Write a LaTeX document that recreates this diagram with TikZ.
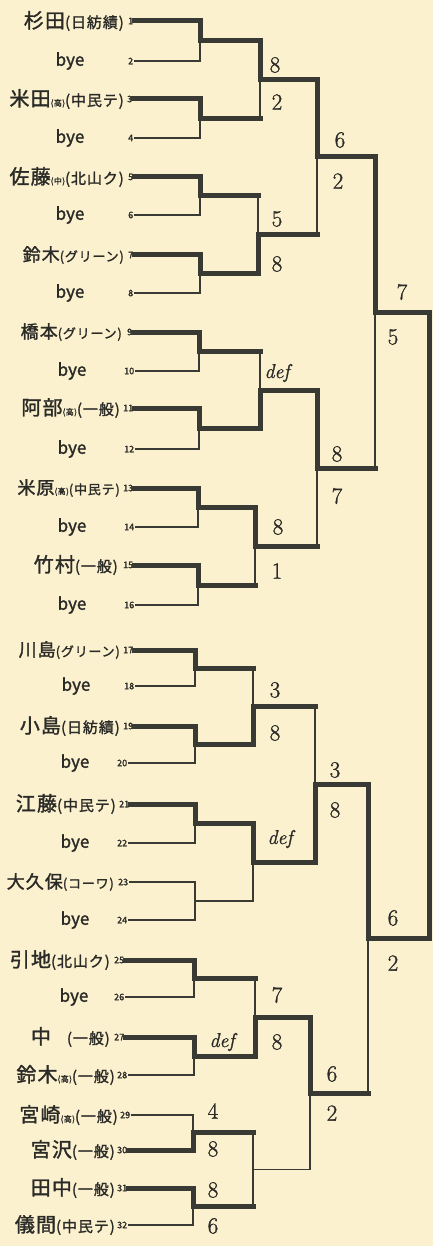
\documentclass[tikz,border=0pt]{standalone}
\usepackage{fontspec}
\newfontfamily\jpfont[LetterSpace=6,FakeBold=1.5]{Noto Sans CJK JP}
\newfontfamily\byefont[FakeBold=1.5]{Noto Sans CJK JP}
\newfontfamily\digfont[FakeBold=1.2]{Latin Modern Roman}
\definecolor{paper}{HTML}{FBF1CF}
\definecolor{ink}{HTML}{3A3A35}
\definecolor{txt}{HTML}{2A2A27}
\newcommand\pnm[3]{{\fontsize{20}{20}\selectfont #1}{\fontsize{8}{8}\selectfont #2}{\fontsize{15}{15}\selectfont (#3)}}
\newcommand\pnms[3]{{\fontsize{18}{18}\selectfont #1}{\fontsize{8}{8}\selectfont #2}{\fontsize{13}{13}\selectfont (#3)}}
\newcommand\brk[4]{\draw[#3] (#1) -- (#1 -| #2); \draw[#4] (#1 -| #2) -- (#2);}
\tikzset{
  W/.style={draw=ink, line width=5pt, line cap=rect},
  L/.style={draw=ink, line width=1.5pt, line cap=rect},
  pname/.style={anchor=east, inner sep=0pt, text=txt, font=\jpfont},
  pnum/.style={anchor=west, inner sep=1pt, text=txt, font=\byefont\fontsize{9}{9}\selectfont},
  byelab/.style={inner sep=0pt, text=txt, font=\byefont\fontsize{17}{17}\selectfont},
  scorelab/.style={inner sep=0pt, text=txt, font=\digfont\fontsize{23}{23}\selectfont},
  deflab/.style={inner sep=0pt, text=txt, font=\digfont\itshape\fontsize{20}{20}\selectfont}
}
\begin{document}
\begin{tikzpicture}[x=1pt,y=-1pt]
\useasboundingbox (0,0) rectangle (433,1246);
\fill[paper] (0,0) rectangle (433,1246);

% entries
\node[pname] (a1) at (124,21) {\pnm{杉田}{}{日紡績}};
\node[pnum] (n1) at (127,21) {1};
\node[byelab] (b2) at (70,61) {bye};
\node[pnum] (n2) at (127,61) {2};
\node[pname] (a3) at (124,99) {\pnm{米田}{(高)}{中民テ}};
\node[pnum] (n3) at (126,99) {3};
\node[byelab] (b4) at (70,138) {bye};
\node[pnum] (n4) at (127,138) {4};
\node[pname] (a5) at (124,177) {\pnm{佐藤}{(中)}{北山ク}};
\node[pnum] (n5) at (127,177) {5};
\node[byelab] (b6) at (70,215) {bye};
\node[pnum] (n6) at (127,215) {6};
\node[pname] (a7) at (124,255) {\pnms{鈴木}{}{グリーン}};
\node[pnum] (n7) at (127,255) {7};
\node[byelab] (b8) at (70,293) {bye};
\node[pnum] (n8) at (127,293) {8};
\node[pname] (a9) at (122,332) {\pnms{橋本}{}{グリーン}};
\node[pnum] (n9) at (126,332) {9};
\node[byelab] (b10) at (72,371) {bye};
\node[pnum] (n10) at (123,371) {10};
\node[pname] (a11) at (120,408) {\pnm{阿部}{(高)}{一般}};
\node[pnum] (n11) at (122,408) {11};
\node[byelab] (b12) at (72,449) {bye};
\node[pnum] (n12) at (123,449) {12};
\node[pname] (a13) at (120,488) {\pnms{米原}{(高)}{中民テ}};
\node[pnum] (n13) at (122,488) {13};
\node[byelab] (b14) at (72,527) {bye};
\node[pnum] (n14) at (123,527) {14};
\node[pname] (a15) at (118,565) {\pnm{竹村}{}{一般}};
\node[pnum] (n15) at (122,565) {15};
\node[byelab] (b16) at (72,605) {bye};
\node[pnum] (n16) at (123,605) {16};
\node[pname] (a17) at (120,650) {\pnms{川島}{}{グリーン}};
\node[pnum] (n17) at (122,650) {17};
\node[byelab] (b18) at (76,686) {bye};
\node[pnum] (n18) at (123,686) {18};
\node[pname] (a19) at (120,726) {\pnm{小島}{}{日紡績}};
\node[pnum] (n19) at (122,726) {19};
\node[byelab] (b20) at (75,763) {bye};
\node[pnum] (n20) at (116,763) {20};
\node[pname] (a21) at (116,804) {\pnm{江藤}{}{中民テ}};
\node[pnum] (n21) at (118,804) {21};
\node[byelab] (b22) at (75,843) {bye};
\node[pnum] (n22) at (116,843) {22};
\node[pname] (a23) at (114,882) {\pnms{大久保}{}{コーワ}};
\node[pnum] (n23) at (117,882) {23};
\node[byelab] (b24) at (75,920) {bye};
\node[pnum] (n24) at (116,920) {24};
\node[pname] (a25) at (110,960) {\pnm{引地}{}{北山ク}};
\node[pnum] (n25) at (113,960) {25};
\node[byelab] (b26) at (74,997) {bye};
\node[pnum] (n26) at (113,997) {26};
\node[pname] (a27) at (110,1037) {\pnm{中\hspace{16pt}}{}{一般}};
\node[pnum] (n27) at (113,1037) {27};
\node[pname] (a28) at (115,1075) {\pnm{鈴木}{(高)}{一般}};
\node[pnum] (n28) at (116,1075) {28};
\node[pname] (a29) at (118,1115) {\pnm{宮崎}{(高)}{一般}};
\node[pnum] (n29) at (119,1115) {29};
\node[pname] (a30) at (115,1150) {\pnm{宮沢}{}{一般}};
\node[pnum] (n30) at (116,1150) {30};
\node[pname] (a31) at (115,1188) {\pnm{田中}{}{一般}};
\node[pnum] (n31) at (116,1188) {31};
\node[pname] (a32) at (115,1225) {\pnm{儀間}{}{中民テ}};
\node[pnum] (n32) at (116,1225) {32};

% match junctions
\coordinate (m1) at (200,41);   \coordinate (m2) at (200,118.5);
\coordinate (m3) at (200,196);  \coordinate (m4) at (200,274);
\coordinate (m5) at (199,351.5);\coordinate (m6) at (199,428.5);
\coordinate (m7) at (198,507.5);\coordinate (m8) at (198,585);
\coordinate (m9) at (195,668);  \coordinate (m10) at (195,744.5);
\coordinate (m11) at (195,823.5);\coordinate (m12) at (195,901);
\coordinate (m13) at (194,978.5);\coordinate (m14) at (194,1056);
\coordinate (m15) at (193,1132.5);\coordinate (m16) at (193,1206.5);
\coordinate (q1) at (260,80);   \coordinate (q2) at (258,235);
\coordinate (q3) at (260,390);  \coordinate (q4) at (255,546);
\coordinate (q5) at (253,706);  \coordinate (q6) at (253,862);
\coordinate (q7) at (255,1017); \coordinate (q8) at (253,1169.5);
\coordinate (s1) at (317,157);  \coordinate (s2) at (317,468);
\coordinate (s3) at (315,784);  \coordinate (s4) at (310,1093);
\coordinate (t1) at (375,312);  \coordinate (t2) at (368,938.5);
\coordinate (f) at (429,625);

% round 1
\brk{n1.east}{m1}{W}{W} \brk{n2.east}{m1}{L}{L}
\brk{n3.east}{m2}{W}{W} \brk{n4.east}{m2}{L}{L}
\brk{n5.east}{m3}{W}{W} \brk{n6.east}{m3}{L}{L}
\brk{n7.east}{m4}{W}{W} \brk{n8.east}{m4}{L}{L}
\brk{n9.east}{m5}{W}{W} \brk{n10.east}{m5}{L}{L}
\brk{n11.east}{m6}{W}{W} \brk{n12.east}{m6}{L}{L}
\brk{n13.east}{m7}{W}{W} \brk{n14.east}{m7}{L}{L}
\brk{n15.east}{m8}{W}{W} \brk{n16.east}{m8}{L}{L}
\brk{n17.east}{m9}{W}{W} \brk{n18.east}{m9}{L}{L}
\brk{n19.east}{m10}{W}{W} \brk{n20.east}{m10}{L}{L}
\brk{n21.east}{m11}{W}{W} \brk{n22.east}{m11}{L}{L}
\brk{n23.east}{m12}{L}{L} \brk{n24.east}{m12}{L}{L}
\brk{n25.east}{m13}{W}{W} \brk{n26.east}{m13}{L}{L}
\brk{n27.east}{m14}{W}{W} \brk{n28.east}{m14}{L}{L}
\brk{n29.east}{m15}{L}{L} \brk{n30.east}{m15}{W}{W}
\brk{n31.east}{m16}{W}{W} \brk{n32.east}{m16}{L}{L}
% round 2
\brk{m1}{q1}{W}{W} \brk{m2}{q1}{W}{L}
\brk{m3}{q2}{W}{L} \brk{m4}{q2}{W}{W}
\brk{m5}{q3}{W}{L} \brk{m6}{q3}{W}{W}
\brk{m7}{q4}{W}{W} \brk{m8}{q4}{W}{L}
\brk{m9}{q5}{W}{L} \brk{m10}{q5}{W}{W}
\brk{m11}{q6}{W}{W} \brk{m12}{q6}{L}{L}
\brk{m13}{q7}{W}{L} \brk{m14}{q7}{W}{W}
\brk{m15}{q8}{W}{L} \brk{m16}{q8}{W}{L}
% round 3
\brk{q1}{s1}{W}{W} \brk{q2}{s1}{W}{L}
\brk{q3}{s2}{W}{W} \brk{q4}{s2}{W}{L}
\brk{q5}{s3}{W}{L} \brk{q6}{s3}{W}{W}
\brk{q7}{s4}{W}{W} \brk{q8}{s4}{L}{L}
% round 4
\brk{s1}{t1}{W}{W} \brk{s2}{t1}{W}{L}
\brk{s3}{t2}{W}{W} \brk{s4}{t2}{W}{L}
% final
\brk{t1}{f}{W}{W} \brk{t2}{f}{W}{W}

% scores
\node[scorelab] (c1) at (275,65) {8};
\node[scorelab] (c2) at (277,102) {2};
\node[scorelab] (c3) at (277,219) {5};
\node[scorelab] (c4) at (277,264) {8};
\node[deflab] (c5) at (277,373) {def};
\node[scorelab] (c6) at (278,527) {8};
\node[scorelab] (c7) at (277,571) {1};
\node[scorelab] (c8) at (275,690) {3};
\node[scorelab] (c9) at (275,733) {8};
\node[deflab] (c10) at (280,839) {def};
\node[scorelab] (c11) at (277,995) {7};
\node[scorelab] (c12) at (277,1042) {8};
\node[deflab] (c13) at (222,1042) {def};
\node[scorelab] (c14) at (213,1111) {4};
\node[scorelab] (c15) at (213,1149) {8};
\node[scorelab] (c16) at (213,1190) {8};
\node[scorelab] (c17) at (213,1226) {6};
\node[scorelab] (c18) at (340,140) {6};
\node[scorelab] (c19) at (338,181) {2};
\node[scorelab] (c20) at (337,454) {8};
\node[scorelab] (c21) at (337,496) {7};
\node[scorelab] (c22) at (335,770) {3};
\node[scorelab] (c23) at (335,810) {8};
\node[scorelab] (c24) at (332,1074) {6};
\node[scorelab] (c25) at (332,1113) {2};
\node[scorelab] (c26) at (402,292) {7};
\node[scorelab] (c27) at (393,337) {5};
\node[scorelab] (c28) at (393,918) {6};
\node[scorelab] (c29) at (393,963) {2};
\end{tikzpicture}
\end{document}
